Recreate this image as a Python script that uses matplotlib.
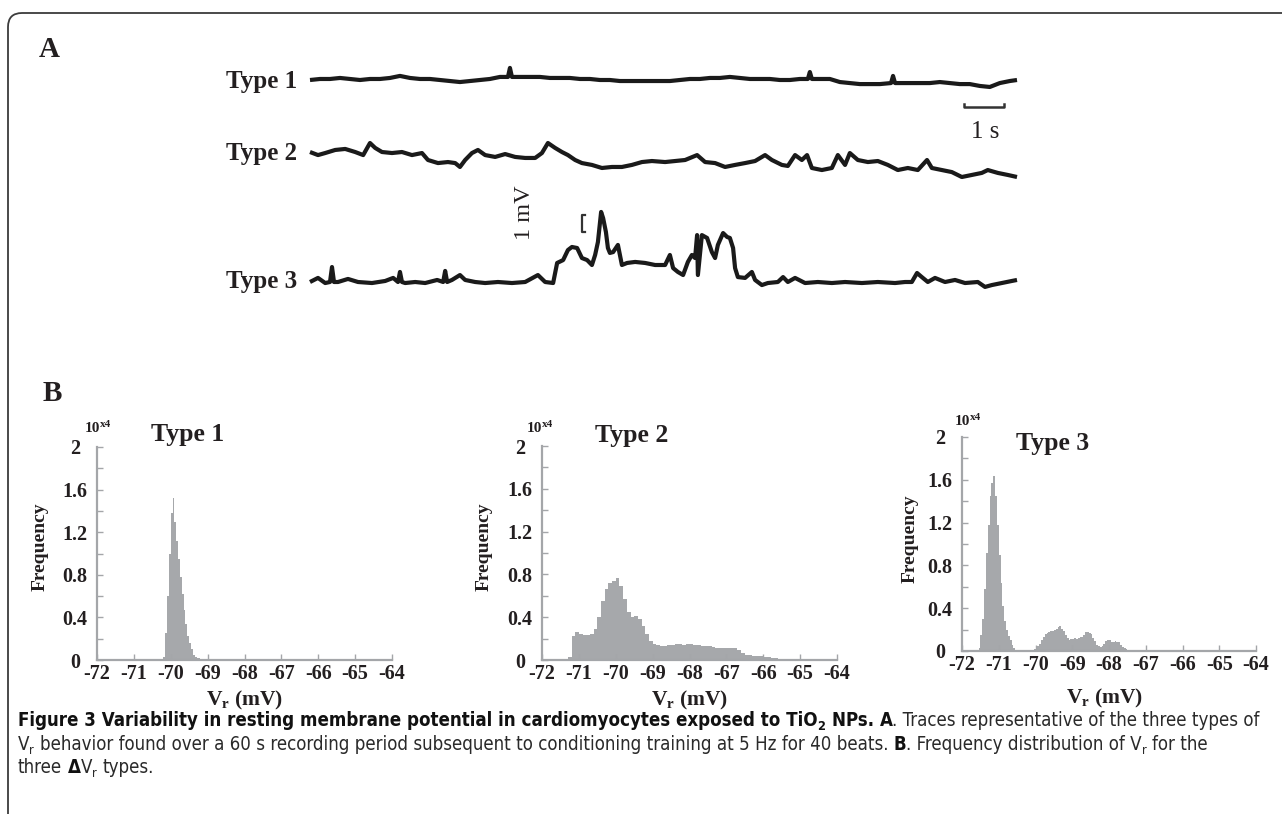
import os
import matplotlib
matplotlib.use("Agg")
import matplotlib.pyplot as plt
import numpy as np
from matplotlib.patches import FancyBboxPatch
from matplotlib.transforms import IdentityTransform
from matplotlib import font_manager
from matplotlib.font_manager import FontProperties, findfont

# ---------------- data ----------------
# Panel A traces: time (s) and deflection (mV) relative to each trace's resting level
T1_t = [0.00, 0.25, 0.50, 0.75, 1.00, 1.25, 1.50, 1.75, 2.00, 2.25, 2.50, 2.75, 3.00, 3.25, 3.50, 3.75,
        4.00, 4.25, 4.50, 4.75, 4.95, 5.00, 5.05, 5.25, 5.50, 5.75, 6.00, 6.25, 6.50, 6.75, 7.00, 7.25,
        7.50, 7.75, 8.00, 8.25, 8.50, 8.75, 9.00, 9.25, 9.50, 9.75, 10.00, 10.25, 10.50, 10.75, 11.00,
        11.25, 11.50, 11.75, 12.00, 12.25, 12.45, 12.50, 12.55, 12.75, 13.00, 13.25, 13.50, 13.75, 14.00,
        14.25, 14.53, 14.58, 14.63, 14.75, 15.00, 15.25, 15.50, 15.75, 16.00, 16.25, 16.50, 16.75, 17.00,
        17.25, 17.50, 17.68]
T1_v = [0.00, 0.06, 0.06, 0.12, 0.06, 0.00, 0.06, 0.06, 0.12, 0.24, 0.12, 0.06, 0.06, 0.00, -0.06, -0.12,
        -0.06, 0.00, 0.06, 0.18, 0.18, 0.71, 0.18, 0.18, 0.18, 0.18, 0.12, 0.12, 0.12, 0.06, 0.06, 0.00,
        0.00, -0.06, -0.06, -0.06, -0.06, -0.06, -0.06, 0.00, 0.06, 0.06, 0.12, 0.12, 0.18, 0.12, 0.06,
        0.06, 0.06, 0.00, 0.00, 0.06, 0.06, 0.47, 0.06, 0.06, 0.06, -0.12, -0.18, -0.24, -0.24,
        -0.24, -0.18, 0.24, -0.18, -0.18, -0.18, -0.18, -0.18, -0.12, -0.18, -0.24, -0.24, -0.35, -0.41,
        -0.18, -0.06, 0.00]

T2_t = [0.00, 0.20, 0.38, 0.63, 0.88, 1.13, 1.33, 1.50, 1.63, 1.80, 2.05, 2.30, 2.55, 2.80, 2.95, 3.20,
        3.45, 3.63, 3.75, 3.88, 4.05, 4.20, 4.38, 4.63, 4.88, 5.13, 5.38, 5.63, 5.80, 5.95, 6.13, 6.30,
        6.45, 6.63, 6.80, 7.05, 7.30, 7.55, 7.80, 8.05, 8.30, 8.55, 8.88, 9.13, 9.38, 9.68, 9.88, 10.13,
        10.38, 10.63, 10.88, 11.13, 11.38, 11.55, 11.80, 11.95, 12.13, 12.30, 12.43, 12.55, 12.80, 13.05,
        13.20, 13.38, 13.50, 13.70, 13.95, 14.20, 14.45, 14.70, 14.95, 15.20, 15.43, 15.55, 15.80, 16.05,
        16.30, 16.55, 16.80, 16.95, 17.20, 17.45, 17.68]
T2_v = [0.47, 0.29, 0.41, 0.59, 0.65, 0.47, 0.29, 1.00, 0.71, 0.47, 0.41, 0.47, 0.29, 0.41, 0.00, -0.18,
        -0.12, -0.18, -0.41, 0.00, 0.41, 0.59, 0.29, 0.18, 0.35, 0.18, 0.12, 0.12, 0.41, 1.00, 0.71, 0.47,
        0.29, 0.00, -0.18, -0.29, -0.47, -0.41, -0.41, -0.29, -0.12, -0.06, -0.12, -0.06, 0.00, 0.29, -0.12,
        -0.18, -0.41, -0.29, -0.18, -0.06, 0.29, 0.00, -0.29, -0.35, 0.29, 0.00, 0.29, -0.47, -0.59, -0.47,
        0.29, -0.29, 0.41, 0.00, -0.12, -0.06, -0.29, -0.59, -0.47, -0.59, 0.00, -0.47, -0.59, -0.71,
        -1.00, -0.88, -0.76, -0.59, -0.76, -0.88, -1.00]

T3_t = [0.00, 0.20, 0.38, 0.50, 0.55, 0.60, 0.70, 0.95, 1.20, 1.55, 1.88, 2.08, 2.20, 2.25, 2.30, 2.38,
        2.63, 2.88, 3.18, 3.33, 3.38, 3.43, 3.55, 3.75, 3.88, 4.13, 4.38, 4.70, 5.05, 5.38, 5.70, 5.88,
        6.08, 6.18, 6.33, 6.45, 6.55, 6.68, 6.80, 6.93, 7.05, 7.13, 7.20, 7.28, 7.33, 7.40, 7.45, 7.50,
        7.58, 7.70, 7.80, 7.93, 8.13, 8.38, 8.63, 8.88, 9.00, 9.08, 9.20, 9.33, 9.45, 9.55, 9.63, 9.68,
        9.70, 9.80, 9.93, 10.05, 10.13, 10.20, 10.33, 10.43, 10.50, 10.58, 10.63, 10.70, 10.88, 11.05,
        11.13, 11.30, 11.45, 11.70, 11.83, 11.95, 12.13, 12.38, 12.70, 13.05, 13.38, 13.80, 14.20, 14.63,
        14.88, 15.05, 15.18, 15.30, 15.45, 15.63, 15.88, 16.13, 16.38, 16.70, 16.88, 17.05, 17.30, 17.55,
        17.68]
T3_v = [0.00, 0.24, -0.06, 0.00, 0.88, 0.00, 0.00, 0.18, 0.00, -0.06, 0.06, 0.24, 0.00, 0.59, 0.00, -0.06,
        0.00, -0.06, 0.12, 0.00, 0.65, 0.00, 0.12, 0.41, 0.12, 0.00, -0.06, 0.00, -0.06, 0.00, 0.41, 0.00,
        -0.06, 1.12, 1.29, 1.88, 2.06, 2.00, 1.41, 1.29, 1.00, 1.59, 2.35, 4.12, 3.76, 2.94, 2.00, 1.71,
        1.76, 2.18, 1.00, 1.12, 1.18, 1.12, 1.00, 1.00, 1.59, 0.82, 0.59, 0.41, 1.18, 1.59, 1.41, 2.76,
        0.41, 2.76, 2.59, 1.76, 1.41, 2.18, 2.88, 2.65, 2.59, 2.00, 0.82, 0.29, 0.24, 0.59,
        0.12, -0.18, -0.06, 0.00, 0.29, 0.00, 0.24, -0.06, 0.00, -0.06, 0.00, -0.06, 0.00, -0.06,
        0.00, 0.00, 0.53, 0.29, 0.00, 0.24, 0.00, 0.12, -0.06, 0.00, -0.29, -0.18, -0.06, 0.06,
        0.12]

TRACE_LABELS = ["Type 1", "Type 2", "Type 3"]

# Panel B histograms (counts x 10^4), fixed-width bins starting at HIST_START
HIST_START = [-70.20, -71.30, -71.60]
HIST_WIDTH = [0.05, 0.10, 0.05]
H1 = [0.03, 0.25, 0.60, 1.00, 1.38, 1.52, 1.30, 1.12, 0.95, 0.78, 0.62, 0.47, 0.34, 0.23, 0.16, 0.10,
      0.05, 0.03, 0.02, 0.015, 0.01, 0.01, 0.01, 0.01, 0.01, 0.01, 0.01, 0.01, 0.01]
H2 = [0.03, 0.22, 0.26, 0.24, 0.23, 0.23, 0.24, 0.29, 0.40, 0.55, 0.66, 0.72, 0.74, 0.77, 0.69, 0.57,
      0.45, 0.40, 0.41, 0.38, 0.32, 0.24, 0.18, 0.15, 0.14, 0.13, 0.13, 0.14, 0.14, 0.15, 0.15, 0.14,
      0.15, 0.15, 0.14, 0.14, 0.13, 0.13, 0.13, 0.12, 0.11, 0.11, 0.11, 0.11, 0.11, 0.11, 0.09, 0.07,
      0.05, 0.045, 0.04, 0.04, 0.035, 0.03, 0.025, 0.02, 0.015, 0.01, 0.01, 0.005, 0.003, 0.002]
H3 = [0.01, 0.03, 0.15, 0.30, 0.58, 0.92, 1.18, 1.45, 1.57, 1.64, 1.45, 1.18, 0.90, 0.64, 0.42, 0.28,
      0.20, 0.14, 0.10, 0.06, 0.03, 0.01, 0.0, 0.0, 0.0, 0.0, 0.0, 0.0, 0.0, 0.0, 0.01, 0.02, 0.03,
      0.05, 0.07, 0.10, 0.13, 0.16, 0.17, 0.18, 0.19, 0.19, 0.20, 0.21, 0.22, 0.23, 0.21, 0.19, 0.15,
      0.12, 0.10, 0.11, 0.11, 0.12, 0.11, 0.12, 0.13, 0.13, 0.15, 0.18, 0.18, 0.17, 0.16, 0.12, 0.09,
      0.06, 0.05, 0.04, 0.05, 0.07, 0.09, 0.10, 0.10, 0.08, 0.08, 0.09, 0.08, 0.08, 0.06, 0.04, 0.03,
      0.02, 0.01, 0.01]
HISTS = [H1, H2, H3]
HIST_TITLES = ["Type 1", "Type 2", "Type 3"]
XTICKS = [-72, -71, -70, -69, -68, -67, -66, -65, -64]
YTICKS = [0, 0.4, 0.8, 1.2, 1.6, 2]
YTICK_LABELS = ["0", "0.4", "0.8", "1.2", "1.6", "2"]

# ---------------- styling / layout ----------------
W, H = 1282, 814
DPI = 100
PX_PER_MV = 17.0
SERIF = "Liberation Serif"
TXT = "#231f20"
AX_GREY = "#a4a6a9"
FILL_GREY = "#a6a8ab"
TRACE_C = "#1a1a1a"

plt.rcParams["mathtext.fontset"] = "custom"
plt.rcParams["mathtext.rm"] = SERIF
plt.rcParams["mathtext.bf"] = SERIF + ":bold"
plt.rcParams["mathtext.it"] = SERIF + ":italic"


def pick_caption_font():
    names = {f.name for f in font_manager.fontManager.ttflist}
    cands = [("Liberation Sans Narrow", "normal"), ("DejaVu Sans", "condensed"),
             ("Roboto Condensed", "normal"), ("Open Sans Condensed", "normal"),
             ("Noto Sans", "condensed"), ("Open Sans", "condensed"), ("Roboto", "condensed")]
    for fam, stretch in cands:
        if fam not in names:
            continue
        if stretch == "normal":
            return fam, stretch
        try:
            f = findfont(FontProperties(family=fam, stretch=stretch), fallback_to_default=False)
        except Exception:
            continue
        b = os.path.basename(f).lower()
        if "condensed" in b or "narrow" in b:
            return fam, stretch
    return "DejaVu Sans", "normal"


CAP_FONT, CAP_STRETCH = pick_caption_font()

fig = plt.figure(figsize=(W / DPI, H / DPI), dpi=DPI)
ID = IdentityTransform()


def ptxt(x, y, s, **kw):
    """text at pixel coords measured from top-left"""
    return fig.text(x, H - y, s, transform=ID, **kw)


# outer frame (rounded top-left corner, runs off right/bottom)
frame = FancyBboxPatch((8, -60), 1400, (H - 13) + 60,
                       boxstyle="round,pad=0,rounding_size=14",
                       transform=ID, fill=False, ec="#3c3c3c", lw=1.3)
fig.add_artist(frame)

# ---------------- Panel A ----------------
ptxt(49, 57, "A", fontsize=21, fontweight="bold", family=SERIF, color=TXT, ha="center", va="baseline")

TR_LEFT, TR_RIGHT, TR_TOP, TR_BOT = 310, 1017, 50, 300
axA = fig.add_axes([TR_LEFT / W, 1 - TR_BOT / H, (TR_RIGHT - TR_LEFT) / W, (TR_BOT - TR_TOP) / H])
axA.set_xlim(0, 17.68)
axA.set_ylim(0, (TR_BOT - TR_TOP) / PX_PER_MV)
axA.axis("off")

trace_base_px = [80, 160, 282]
label_base_px = [88, 160, 288]
for (tt, vv), ybase, lab, lb in zip([(T1_t, T1_v), (T2_t, T2_v), (T3_t, T3_v)],
                                     trace_base_px, TRACE_LABELS, label_base_px):
    off = (TR_BOT - ybase) / PX_PER_MV
    axA.plot(tt, np.asarray(vv) + off, color=TRACE_C, lw=3.0, solid_joinstyle="round",
             solid_capstyle="butt", clip_on=False)
    ptxt(297, lb, lab, fontsize=18, fontweight="bold", family=SERIF, color=TXT, ha="right", va="baseline")

# time scale bar: 1 s
sb_y = (TR_BOT - 107) / PX_PER_MV
sb_t0 = 16.35
axA.plot([sb_t0, sb_t0, sb_t0 + 1, sb_t0 + 1], [sb_y + 0.18, sb_y, sb_y, sb_y + 0.18],
         color="#333333", lw=1.8, clip_on=False)
ptxt(985, 138, "1 s", fontsize=18, family=SERIF, color=TXT, ha="center", va="baseline")

# voltage scale bar: 1 mV bracket
mv_t = 6.80
mv_y0 = (TR_BOT - 232) / PX_PER_MV
axA.plot([mv_t + 0.08, mv_t, mv_t, mv_t + 0.08], [mv_y0, mv_y0, mv_y0 + 1, mv_y0 + 1],
         color="#333333", lw=1.6, clip_on=False)
ptxt(524, 213, "1 mV", fontsize=17.5, family=SERIF, color=TXT, rotation=90, ha="center", va="center")

# ---------------- Panel B ----------------
ptxt(52, 401, "B", fontsize=21, fontweight="bold", family=SERIF, color=TXT, ha="center", va="baseline")

PANELS = [
    dict(x0=97, x1=392, y0=660, y1=447, tx=188, tb=441, ex=100, eb=432, lx=40, ly=547, xx=245, xy=700),
    dict(x0=542, x1=837, y0=660, y1=446, tx=632, tb=442, ex=542, eb=432, lx=484, ly=547, xx=690, xy=700),
    dict(x0=962, x1=1256, y0=651, y1=437, tx=1053, tb=450, ex=970, eb=425, lx=910, ly=539, xx=1105, xy=698),
]

for p, vals, start, bw, title in zip(PANELS, HISTS, HIST_START, HIST_WIDTH, HIST_TITLES):
    ax = fig.add_axes([p["x0"] / W, 1 - p["y0"] / H, (p["x1"] - p["x0"]) / W, (p["y0"] - p["y1"]) / H])
    edges = start + bw * np.arange(len(vals) + 1)
    ax.stairs(vals, edges, fill=True, color=FILL_GREY, lw=0)
    ax.set_xlim(-72, -64)
    ax.set_ylim(0, 2)
    for s in ["top", "right"]:
        ax.spines[s].set_visible(False)
    for s in ["left", "bottom"]:
        ax.spines[s].set_color(AX_GREY)
        ax.spines[s].set_linewidth(1.6)
    ax.set_xticks(XTICKS, labels=[str(v) for v in XTICKS])
    ax.set_yticks(YTICKS, labels=YTICK_LABELS)
    ax.set_yticks(np.arange(0.2, 2.0, 0.4), minor=True)
    ax.tick_params(axis="both", which="both", direction="in", length=4, width=1, color=AX_GREY,
                   labelsize=14.5, labelcolor=TXT)
    ax.tick_params(axis="x", pad=3.0)
    ax.tick_params(axis="y", pad=15.8)
    for lab in ax.get_xticklabels() + ax.get_yticklabels():
        lab.set_fontfamily(SERIF)
        lab.set_fontweight("bold")
    for lab in ax.get_yticklabels():
        lab.set_ha("center")
    ax.set_facecolor("none")

    ptxt(p["tx"], p["tb"], title, fontsize=18.5, fontweight="bold", family=SERIF, color=TXT,
         ha="center", va="baseline")
    ptxt(p["ex"], p["eb"], "10", fontsize=11, fontweight="bold", family=SERIF, color=TXT,
         ha="right", va="baseline")
    ptxt(p["ex"], p["eb"] - 5, "x4", fontsize=8, fontweight="bold", family=SERIF, color=TXT,
         ha="left", va="baseline")
    ptxt(p["lx"], p["ly"], "Frequency", fontsize=14, fontweight="bold", family=SERIF, color=TXT,
         rotation=90, ha="center", va="center")
    ptxt(p["xx"], p["xy"], r"V$_{\mathbf{r}}$ (mV)", fontsize=15.5, fontweight="bold", family=SERIF,
         color=TXT, ha="center", va="center")

# ---------------- caption ----------------
CAPTION = [
    [("Figure 3 Variability in resting membrane potential in cardiomyocytes exposed to TiO", True, False),
     ("2", True, True), (" NPs. A", True, False),
     (". Traces representative of the three types of", False, False)],
    [("V", False, False), ("r", False, True),
     (" behavior found over a 60 s recording period subsequent to conditioning training at 5 Hz for 40 beats. ",
      False, False),
     ("B", True, False), (". Frequency distribution of V", False, False), ("r", False, True),
     (" for the", False, False)],
    [("three ", False, False), ("\u0394", True, False), ("V", False, False), ("r", False, True),
     (" types.", False, False)],
]
CAP_X0, CAP_X1 = 18, 1262
CAP_BASE = [726, 750, 773]

renderer = fig.canvas.get_renderer()


def _props(size, bold):
    return dict(fontsize=size, fontweight="bold" if bold else "normal", family=CAP_FONT,
                fontstretch=CAP_STRETCH)


def space_w(size, bold):
    a = ptxt(0, 0, "a a", **_props(size, bold))
    b = ptxt(0, 0, "aa", **_props(size, bold))
    w = a.get_window_extent(renderer).width - b.get_window_extent(renderer).width
    a.remove()
    b.remove()
    return w


def draw_runs(x, ybase, runs, size):
    arts = []
    for s, bold, sub in runs:
        fs = size * 0.68 if sub else size
        dy = 0.22 * size * DPI / 72 if sub else 0
        sw = space_w(fs, bold)
        lead = len(s) - len(s.lstrip(" "))
        trail = len(s) - len(s.rstrip(" "))
        core = s.strip(" ")
        x += lead * sw
        t = ptxt(x, ybase + dy, core, color="#111111" if bold else "#2a2a2a",
                 ha="left", va="baseline", **_props(fs, bold))
        x += t.get_window_extent(renderer).width
        x += trail * sw
        arts.append(t)
    return x, arts


trial = 10.0
end, arts = draw_runs(CAP_X0, CAP_BASE[0], CAPTION[0], trial)
for a in arts:
    a.remove()
cap_size = trial * (CAP_X1 - CAP_X0) / (end - CAP_X0)
for runs, yb in zip(CAPTION, CAP_BASE):
    draw_runs(CAP_X0, yb, runs, cap_size)

fig.savefig("out.png", dpi=DPI)
